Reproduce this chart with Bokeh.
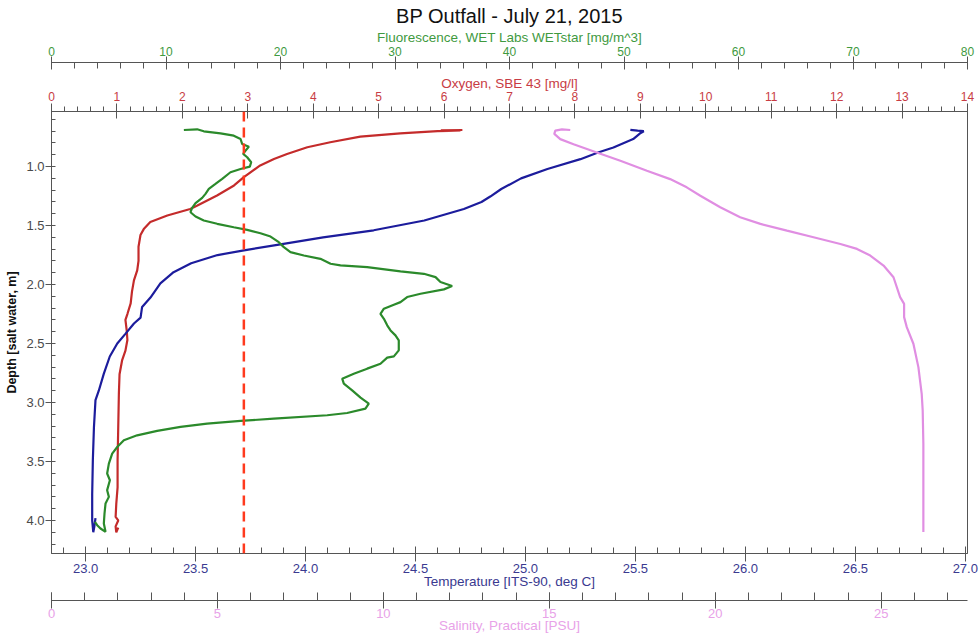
from bokeh.plotting import figure
from bokeh.models import Range1d, LinearAxis, SingleIntervalTicker, FixedTicker, PrintfTickFormatter, Span
from bokeh.embed import file_html
from bokeh.resources import INLINE

# ---------------- data ----------------
title_text = "BP Outfall - July 21, 2015"

oxygen_depth = [0.690, 0.692, 0.695, 0.700, 0.718, 0.746, 0.794, 0.836, 0.893, 0.935, 0.990, 1.090,
                1.160, 1.245, 1.330, 1.360, 1.415, 1.470, 1.530, 1.580, 1.680, 1.800, 1.880, 1.965,
                2.060, 2.160, 2.250, 2.300, 2.390, 2.470, 2.560, 2.640, 2.760, 2.920, 3.210, 3.490,
                3.720, 3.860, 3.970, 4.000, 4.050, 4.100, 4.060]
oxygen_mgl = [6.28, 5.95, 6.25, 5.90, 5.33, 4.72, 4.26, 3.91, 3.60, 3.40, 3.19, 2.94,
              2.79, 2.53, 2.23, 2.12, 1.77, 1.51, 1.41, 1.36, 1.33, 1.33, 1.31, 1.26,
              1.23, 1.21, 1.16, 1.13, 1.15, 1.16, 1.13, 1.08, 1.04, 1.03, 1.02, 1.01,
              1.01, 0.99, 0.98, 1.02, 0.98, 0.99, 1.02]

temp_depth = [0.688, 0.695, 0.700, 0.720, 0.767, 0.838, 0.880, 0.937, 1.020, 1.100, 1.190, 1.254,
              1.300, 1.360, 1.457, 1.540, 1.600, 1.655, 1.710, 1.750, 1.820, 1.895, 1.990, 2.110,
              2.190, 2.280, 2.330, 2.420, 2.500, 2.610, 2.755, 2.900, 2.980, 3.210, 3.490, 3.780,
              4.000, 4.100, 4.050, 3.980]
temp_degc = [25.477, 25.510, 25.538, 25.520, 25.490, 25.400, 25.330, 25.250, 25.100, 24.980, 24.890, 24.840,
             24.800, 24.720, 24.540, 24.310, 24.080, 23.900, 23.720, 23.600, 23.480, 23.400, 23.340, 23.295,
             23.257, 23.250, 23.220, 23.180, 23.144, 23.110, 23.083, 23.060, 23.045, 23.038, 23.033, 23.030,
             23.030, 23.035, 23.040, 23.045]

fluor_depth = [0.690, 0.684, 0.701, 0.718, 0.738, 0.766, 0.808, 0.831, 0.865, 0.893, 0.921, 0.963,
               1.000, 1.020, 1.048, 1.104, 1.147, 1.189, 1.231, 1.265, 1.310, 1.350, 1.387, 1.423,
               1.457, 1.485, 1.514, 1.536, 1.565, 1.593, 1.641, 1.683, 1.725, 1.754, 1.782, 1.824,
               1.838, 1.852, 1.889, 1.909, 1.937, 1.979, 2.013, 2.041, 2.078, 2.106, 2.149, 2.171,
               2.205, 2.248, 2.290, 2.346, 2.389, 2.431, 2.473, 2.558, 2.609, 2.620, 2.671, 2.713,
               2.756, 2.798, 2.840, 2.897, 2.959, 3.010, 3.052, 3.089, 3.108, 3.137, 3.156, 3.179,
               3.207, 3.241, 3.278, 3.320, 3.377, 3.433, 3.518, 3.602, 3.659, 3.743, 3.800, 3.856,
               3.941, 4.026, 4.096, 4.068, 4.040, 4.012]
fluor_mgm3 = [11.56, 12.72, 13.30, 14.76, 15.92, 16.51, 16.65, 17.24, 16.94, 16.74, 17.09, 17.44,
              17.32, 16.51, 15.63, 14.91, 14.32, 13.74, 13.45, 13.16, 12.58, 12.28, 12.14, 12.58,
              13.30, 14.47, 15.92, 17.09, 18.25, 19.13, 19.85, 20.29, 20.87, 22.04, 23.49, 24.37,
              25.24, 27.57, 30.48, 32.52, 33.54, 33.97, 34.99, 34.27, 32.23, 31.06, 30.48, 29.90,
              29.03, 28.73, 29.03, 29.32, 29.61, 30.04, 30.33, 30.33, 29.90, 29.32, 28.73, 27.57,
              26.40, 25.39, 25.53, 26.26, 26.99, 27.71, 27.42, 25.82, 24.08, 19.42, 16.51, 13.59,
              11.27, 9.23, 7.48, 6.32, 5.74, 5.30, 5.01, 4.86, 5.10, 4.86, 5.01, 4.72,
              4.63, 4.57, 4.72, 4.28, 3.99, 3.79]

sal_depth = [0.690, 0.684, 0.695, 0.723, 0.767, 0.810, 0.880, 0.951, 1.035, 1.106, 1.176, 1.247,
             1.345, 1.430, 1.486, 1.543, 1.599, 1.656, 1.698, 1.754, 1.839, 1.938, 2.107, 2.164,
             2.276, 2.361, 2.502, 2.700, 2.926, 3.067, 3.350, 4.097]
sal_psu = [15.63, 15.38, 15.18, 15.15, 15.33, 15.73, 16.43, 17.14, 17.94, 18.64, 19.14, 19.55,
           20.15, 20.75, 21.36, 22.16, 22.96, 23.77, 24.27, 24.67, 25.07, 25.37, 25.57, 25.69,
           25.69, 25.77, 25.97, 26.12, 26.22, 26.25, 26.27, 26.27]

oxygen_threshold = 2.94

depth_range = (4.28, 0.533)
temp_range = (22.845, 27.01)
oxygen_range = (0, 14)
fluor_range = (0, 80)
sal_range = (0, 27.6)

# ---------------- styling ----------------
FONT = "Liberation Sans"
GREEN = "#2b8a2b"
GREEN_TXT = "#3f9a3f"
RED = "#c42b2b"
RED_TXT = "#c83c44"
BLUE = "#1c1c9c"
BLUE_TXT = "#3a3a90"
VIOLET = "#e08ee2"
VIOLET_TXT = "#e8a2e8"
AX = "#555555"
TITLE_SIZE = "13.5px"

p = figure(width=980, height=635, output_backend="svg", toolbar_location=None,
           x_range=Range1d(*temp_range), y_range=Range1d(*depth_range),
           min_border_left=51, min_border_right=13, min_border_top=111, min_border_bottom=82)
p.extra_x_ranges = {"ox": Range1d(*oxygen_range), "fl": Range1d(*fluor_range), "sal": Range1d(*sal_range)}
p.grid.visible = False
p.outline_line_color = AX
p.outline_line_width = 1
p.background_fill_color = "white"
p.border_fill_color = "white"

p.title.text = title_text
p.title.text_font = FONT
p.title.text_font_size = "20px"
p.title.text_font_style = "normal"
p.title.align = "center"
p.title.standoff = 0
p.title.text_color = "#111111"


def style_axis(ax, color_txt, font_size="12px", label_size=TITLE_SIZE):
    ax.axis_line_color = AX
    ax.major_tick_line_color = AX
    ax.minor_tick_line_color = AX
    ax.major_label_text_color = color_txt
    ax.major_label_text_font = FONT
    ax.major_label_text_font_size = font_size
    ax.axis_label_text_color = color_txt
    ax.axis_label_text_font = FONT
    ax.axis_label_text_font_size = label_size
    ax.axis_label_text_font_style = "normal"
    ax.major_label_standoff = 0
    ax.axis_label_standoff = 0


def spacer_axis(range_name, size_px):
    sp = LinearAxis(x_range_name=range_name, ticker=FixedTicker(ticks=[]), axis_label=" ")
    sp.axis_line_color = None
    sp.major_tick_line_color = None
    sp.minor_tick_line_color = None
    sp.major_tick_out = 0
    sp.major_tick_in = 0
    sp.minor_tick_out = 0
    sp.minor_tick_in = 0
    sp.major_label_standoff = 0
    sp.axis_label_standoff = 0
    sp.axis_label_text_font_size = size_px
    return sp


# temperature (primary bottom)
tax = p.xaxis[0]
tax.ticker = SingleIntervalTicker(interval=0.5, num_minor_ticks=5)
tax.formatter = PrintfTickFormatter(format="%.1f")
tax.axis_label = "Temperature [ITS-90, deg C]"
style_axis(tax, BLUE_TXT, "13px")
tax.major_tick_in = 7
tax.major_tick_out = 8
tax.minor_tick_in = 6
tax.minor_tick_out = 0
tax.major_label_standoff = 2
tax.axis_label_standoff = -2

p.add_layout(spacer_axis("sal", "5px"), "below")

# salinity (outer bottom)
sax = LinearAxis(x_range_name="sal", ticker=SingleIntervalTicker(interval=5, num_minor_ticks=5),
                 axis_label="Salinity, Practical [PSU]")
style_axis(sax, VIOLET_TXT, "13px")
sax.major_tick_in = 8
sax.major_tick_out = 8
sax.minor_tick_in = 8
sax.minor_tick_out = 0
sax.major_label_standoff = 0
sax.axis_label_standoff = -3
p.add_layout(sax, "below")

# oxygen (inner top)
oax = LinearAxis(x_range_name="ox", ticker=SingleIntervalTicker(interval=1, num_minor_ticks=5),
                 axis_label="Oxygen, SBE 43 [mg/l]")
style_axis(oax, RED_TXT, "12px")
oax.major_tick_in = 7
oax.major_tick_out = 8
oax.minor_tick_in = 0
oax.minor_tick_out = 5
oax.major_label_standoff = 3
oax.axis_label_standoff = -2
p.add_layout(oax, "above")

p.add_layout(spacer_axis("fl", "6.5px"), "above")

# fluorescence (outer top)
fax = LinearAxis(x_range_name="fl", ticker=SingleIntervalTicker(interval=10, num_minor_ticks=5),
                 axis_label="Fluorescence, WET Labs WETstar [mg/m^3]")
style_axis(fax, GREEN_TXT, "12px")
fax.major_tick_in = 7
fax.major_tick_out = 6
fax.minor_tick_in = 6
fax.minor_tick_out = 0
fax.major_label_standoff = 1
fax.axis_label_standoff = -1
p.add_layout(fax, "above")

# depth (left)
dax = p.yaxis[0]
dax.ticker = SingleIntervalTicker(interval=0.5, num_minor_ticks=5)
dax.formatter = PrintfTickFormatter(format="%.1f")
dax.axis_label = "Depth [salt water, m]"
style_axis(dax, "#4a4a4a", "13px", "12.5px")
dax.axis_label_text_color = "#111111"
dax.axis_label_text_font_style = "bold"
dax.major_tick_in = 3
dax.major_tick_out = 6
dax.minor_tick_in = 4
dax.minor_tick_out = 0
dax.major_label_standoff = 1
dax.axis_label_standoff = 4

# ---------------- profiles ----------------
p.line(oxygen_mgl, oxygen_depth, x_range_name="ox", line_color=RED, line_width=2.2)
p.line(temp_degc, temp_depth, line_color=BLUE, line_width=2.2)
p.line(fluor_mgm3, fluor_depth, x_range_name="fl", line_color=GREEN, line_width=2.2)
p.line(sal_psu, sal_depth, x_range_name="sal", line_color=VIOLET, line_width=2.2)

p.add_layout(Span(location=oxygen_threshold, dimension="height", x_range_name="ox",
                  line_color="#ff3a1e", line_width=2.5, line_dash="10 6"))

open("out.html", "w").write(file_html(p, INLINE))
